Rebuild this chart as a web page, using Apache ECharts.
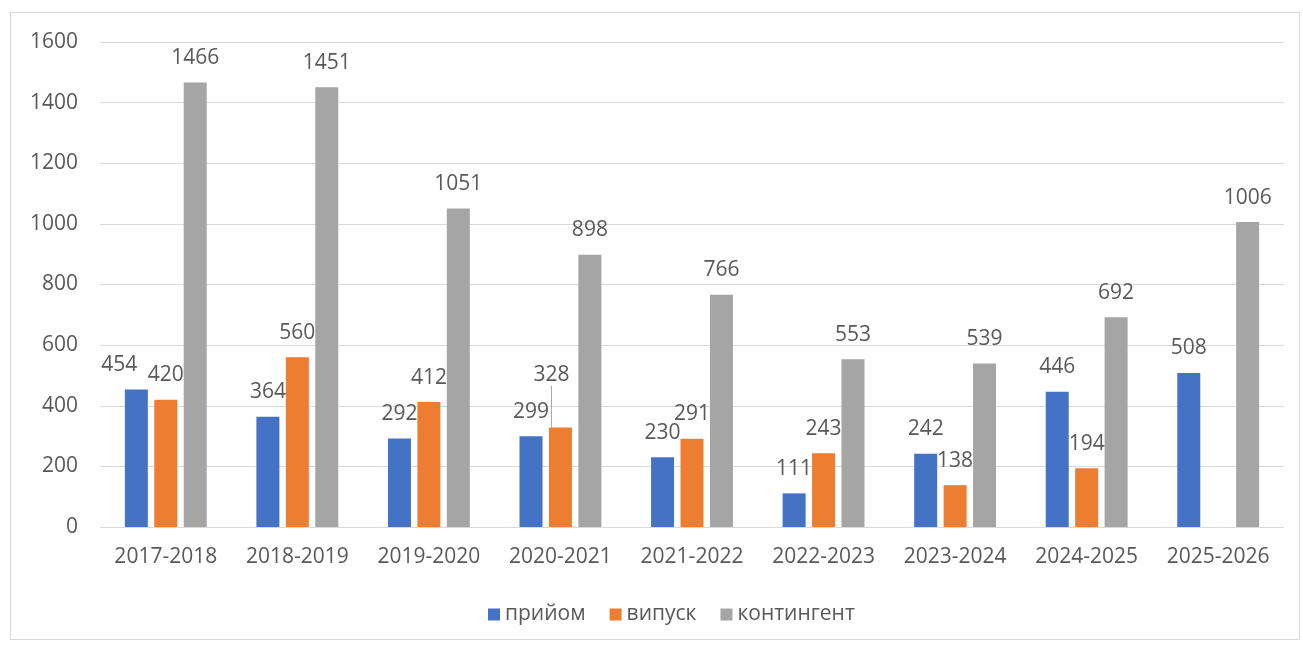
<!DOCTYPE html>
<html>
<head>
<meta charset="utf-8">
<script src="https://cdn.jsdelivr.net/npm/echarts@6/dist/echarts.min.js"></script>
<style>
html,body{margin:0;padding:0;background:#fff;}
#frame{position:absolute;left:10px;top:12px;width:1290px;height:628px;border:1px solid #d9d9d9;box-sizing:border-box;}
#chart{position:absolute;left:0;top:0;width:1303px;height:645px;}
</style>
</head>
<body>
<div id="frame"></div>
<div id="chart"></div>
<script>
const categories = ['2017-2018','2018-2019','2019-2020','2020-2021','2021-2022','2022-2023','2023-2024','2024-2025','2025-2026'];
const pryiom = [454, 364, 292, 299, 230, 111, 242, 446, 508];
const vypusk = [420, 560, 412, 328, 291, 243, 138, 194, null];
const kontynhent = [1466, 1451, 1051, 898, 766, 553, 539, 692, 1006];
const seriesNames = ['прийом', 'випуск', 'контингент'];
const yTicks = {min: 0, max: 1600, interval: 200};

const FONT = '"Open Sans", sans-serif';
const TXT = '#595959';
const chart = echarts.init(document.getElementById('chart'));

function labelCfg() {
  return {show: true, position: 'top', distance: 14, color: TXT, fontSize: 21, fontFamily: FONT};
}

const vypuskData = vypusk.map(function (v, i) {
  return i === 3 ? {value: v, labelLine: {show: true, lineStyle: {color: '#a6a6a6', width: 1}}} : v;
});

chart.setOption({
  animation: false,
  color: ['#4472C4', '#ED7D31', '#A5A5A5'],
  grid: {left: 100, right: 19, top: 42, bottom: 118, containLabel: false},
  legend: {
    bottom: 15, left: 483,
    itemWidth: 12, itemHeight: 12, itemGap: 24,
    icon: 'rect',
    textStyle: {color: TXT, fontSize: 21, fontFamily: FONT},
    data: seriesNames
  },
  xAxis: {
    type: 'category', data: categories,
    axisLine: {lineStyle: {color: '#d9d9d9', width: 1}},
    axisTick: {show: false},
    axisLabel: {color: TXT, fontSize: 21, fontFamily: FONT, margin: 20, interval: 0}
  },
  yAxis: {
    type: 'value', min: yTicks.min, max: yTicks.max, interval: yTicks.interval,
    axisLine: {show: false}, axisTick: {show: false},
    splitLine: {lineStyle: {color: '#d9d9d9', width: 1}},
    axisLabel: {color: TXT, fontSize: 21, fontFamily: FONT, margin: 22, formatter: function (v) { return String(v); }}
  },
  series: [
    {
      name: seriesNames[0], type: 'bar', data: pryiom, barWidth: 23, barGap: '28%',
      label: labelCfg(),
      labelLayout: function (p) { return p.dataIndex === 0 ? {dx: -17} : {}; }
    },
    {
      name: seriesNames[1], type: 'bar', data: vypuskData, barWidth: 23, barGap: '28%',
      label: labelCfg(),
      labelLine: {show: false},
      labelLayout: function (p) { return p.dataIndex === 3 ? {dx: -9, dy: -28} : {}; }
    },
    {
      name: seriesNames[2], type: 'bar', data: kontynhent, barWidth: 23, barGap: '28%',
      label: labelCfg()
    }
  ]
});
</script>
</body>
</html>
